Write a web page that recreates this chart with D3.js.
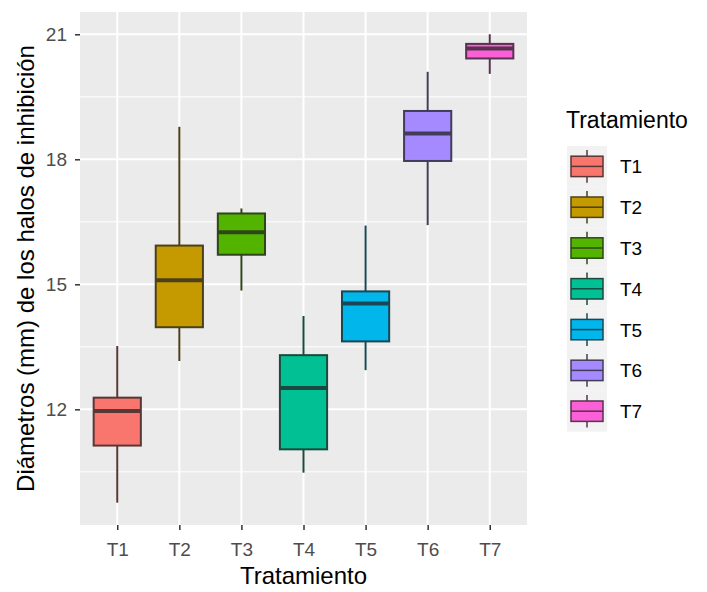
<!DOCTYPE html>
<html><head><meta charset="utf-8">
<script src="https://cdn.jsdelivr.net/npm/d3@7"></script>
<style>body{margin:0;background:#fff;} text{font-family:"Liberation Sans",Arial,sans-serif;}</style>
</head><body><svg id="c" width="707" height="592"></svg>
<script>
const categories = ["T1","T2","T3","T4","T5","T6","T7"];
const whiskerLow  = [9.76, 13.16, 14.85, 10.48, 12.94, 16.42, 20.05];
const q1          = [11.13, 13.97, 15.71, 11.04, 13.63, 17.96, 20.42];
const medians     = [11.96, 15.10, 16.25, 12.51, 14.54, 18.62, 20.66];
const q3          = [12.28, 15.93, 16.70, 13.30, 14.83, 19.16, 20.77];
const whiskerHigh = [13.52, 18.78, 16.82, 14.24, 16.41, 20.10, 21.00];
const colors = ["#F8766D","#C49A00","#53B400","#00C094","#00B6EB","#A58AFF","#FB61D7"];
const yTicks = [12, 15, 18, 21];
const yMinor = [10.5, 13.5, 16.5, 19.5];
const xTitle = "Tratamiento";
const yTitle = "Diámetros (mm) de los halos de inhibición";
const legendTitle = "Tratamiento";

const data = categories.map((c,i)=>({c, lo:whiskerLow[i], q1:q1[i], med:medians[i], q3:q3[i], hi:whiskerHigh[i], col:colors[i]}));

const svg = d3.select("#c");
const L = 80, R = 527, T = 12, B = 525;
const x = d3.scalePoint().domain(categories).range([L,R]).padding(0.6);
const y = d3.scaleLinear().domain([9.224, 21.535]).range([B,T]);
const bw = x.step()*0.76;
const dark = c => d3.interpolateRgb(c, "#222")(0.75);

svg.append("rect").attr("x",L).attr("y",T).attr("width",R-L).attr("height",B-T).attr("fill","#EBEBEB");
const g = svg.append("g");
g.selectAll(".mn").data(yMinor).join("line").attr("x1",L).attr("x2",R)
  .attr("y1",d=>y(d)).attr("y2",d=>y(d)).attr("stroke","#fff").attr("stroke-width",1);
g.selectAll(".mj").data(yTicks).join("line").attr("x1",L).attr("x2",R)
  .attr("y1",d=>y(d)).attr("y2",d=>y(d)).attr("stroke","#fff").attr("stroke-width",2);
g.selectAll(".vx").data(categories).join("line").attr("y1",T).attr("y2",B)
  .attr("x1",d=>x(d)).attr("x2",d=>x(d)).attr("stroke","#fff").attr("stroke-width",2);

// axes
const ya = svg.append("g").attr("transform",`translate(${L},0)`)
  .call(d3.axisLeft(y).tickValues(yTicks).tickSize(5).tickPadding(8).tickFormat(d3.format("d")));
const xa = svg.append("g").attr("transform",`translate(0,${B})`)
  .call(d3.axisBottom(x).tickSize(5).tickPadding(13));
[ya,xa].forEach(a=>{
  a.select(".domain").remove();
  a.selectAll(".tick line").attr("stroke","#333").attr("stroke-width",1.5);
  a.selectAll(".tick text").attr("fill","#4D4D4D").style("font-size","19px").style("font-family","Liberation Sans, Arial, sans-serif");
});

// boxes
const bx = svg.append("g").selectAll("g").data(data).join("g");
bx.append("line").attr("x1",d=>x(d.c)).attr("x2",d=>x(d.c)).attr("y1",d=>y(d.hi)).attr("y2",d=>y(d.q3)).attr("stroke",d=>dark(d.col)).attr("stroke-width",2);
bx.append("line").attr("x1",d=>x(d.c)).attr("x2",d=>x(d.c)).attr("y1",d=>y(d.q1)).attr("y2",d=>y(d.lo)).attr("stroke",d=>dark(d.col)).attr("stroke-width",2);
bx.append("rect").attr("x",d=>x(d.c)-bw/2).attr("width",bw).attr("y",d=>y(d.q3)).attr("height",d=>y(d.q1)-y(d.q3))
  .attr("fill",d=>d.col).attr("stroke",d=>dark(d.col)).attr("stroke-width",2);
bx.append("line").attr("x1",d=>x(d.c)-bw/2).attr("x2",d=>x(d.c)+bw/2).attr("y1",d=>y(d.med)).attr("y2",d=>y(d.med)).attr("stroke",d=>dark(d.col)).attr("stroke-width",4);

// titles
svg.append("text").attr("x",(L+R)/2).attr("y",584).attr("text-anchor","middle").attr("fill","#000").style("font-size","24px").text(xTitle);
svg.append("text").attr("transform",`translate(34,${(T+B)/2}) rotate(-90)`).attr("text-anchor","middle").attr("fill","#000").style("font-size","24px").text(yTitle);

// legend
const lg = svg.append("g");
lg.append("text").attr("x",566).attr("y",128).attr("fill","#000").style("font-size","23px").text(legendTitle);
const ks = 40.8, kx = 567, ky0 = 146;
const key = lg.selectAll(".k").data(data).join("g").attr("transform",(d,i)=>`translate(${kx},${ky0+i*ks})`);
key.append("rect").attr("width",40).attr("height",ks).attr("fill","#F2F2F2");
key.append("line").attr("x1",20).attr("x2",20).attr("y1",ks*0.1).attr("y2",ks*0.9).attr("stroke",d=>dark(d.col)).attr("stroke-width",1.5);
key.append("rect").attr("x",4).attr("width",32).attr("y",ks*0.25).attr("height",ks*0.5).attr("fill",d=>d.col).attr("stroke",d=>dark(d.col)).attr("stroke-width",1.5);
key.append("line").attr("x1",4).attr("x2",36).attr("y1",ks/2).attr("y2",ks/2).attr("stroke",d=>dark(d.col)).attr("stroke-width",1.5);
key.append("text").attr("x",53).attr("y",ks/2+7).attr("fill","#000").style("font-size","19px").text(d=>d.c);
</script></body></html>
